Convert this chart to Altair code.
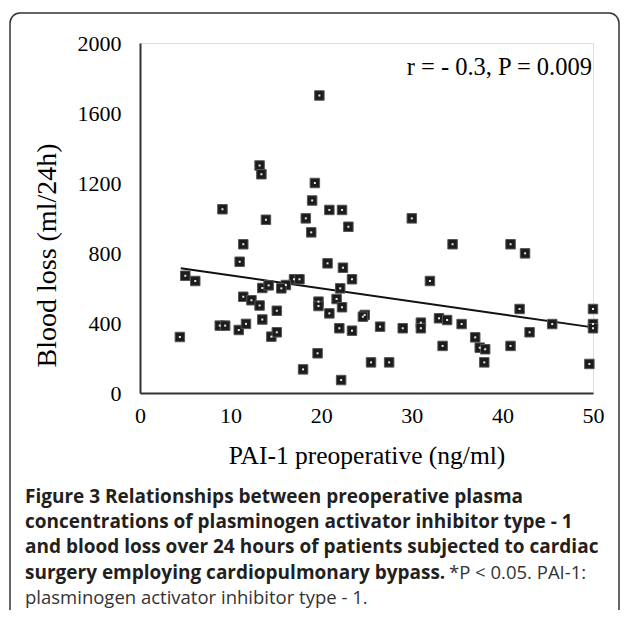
import altair as alt
import pandas as pd

# PAI-1 preoperative (ng/ml) and blood loss (ml/24h)
pai = [9.1, 13.9, 11.4, 11.0, 5.0, 6.1, 13.5, 14.2, 11.4, 12.3, 13.2, 15.1, 13.5,
       8.8, 9.4, 10.9, 11.7, 4.4, 14.5, 15.1, 13.2, 13.4, 19.8, 19.3, 19.0, 20.9,
       22.3, 18.3, 18.9, 23.0, 30.0, 20.7, 22.4, 23.4, 17.0, 17.6, 16.1, 15.6,
       22.1, 21.7, 19.7, 19.7, 20.9, 22.3, 24.8, 24.6, 22.0, 23.4, 26.5, 29.0,
       31.0, 31.0, 33.0, 33.9, 32.0, 33.4, 19.6, 18.0, 25.5, 27.5, 22.2, 34.5,
       40.9, 42.5, 41.9, 50.0, 50.0, 50.0, 45.5, 43.0, 35.5, 37.0, 37.5, 38.1,
       38.0, 40.9, 49.6]
loss = [1050, 990, 850, 750, 670, 640, 600, 615, 550, 530, 500, 470, 420,
        385, 385, 360, 395, 320, 322, 347, 1300, 1250, 1700, 1200, 1100, 1046,
        1046, 998, 918, 950, 998, 741, 716, 650, 650, 650, 617, 598,
        598, 537, 522, 497, 455, 490, 446, 436, 370, 356, 379, 370,
        402, 370, 427, 417, 640, 269, 227, 135, 175, 175, 74, 850,
        850, 798, 480, 480, 394, 370, 394, 347, 394, 318, 259, 250,
        175, 269, 166]

# regression line end points
fit_x = [4.5, 50.0]
fit_y = [713, 375]

x_ticks = [0, 10, 20, 30, 40, 50]
y_ticks = [0, 400, 800, 1200, 1600, 2000]

stat_text = "r = - 0.3, P = 0.009"
caption_bold = [
    "Figure 3 Relationships between preoperative plasma",
    "concentrations of plasminogen activator inhibitor type - 1",
    "and blood loss over 24 hours of patients subjected to cardiac",
    "surgery employing cardiopulmonary bypass.",
]
caption_normal = ["*P < 0.05. PAI-1:", "plasminogen activator inhibitor type - 1."]

SERIF = "Liberation Serif"
SANS = "Open Sans"
CAP_BOLD = 19
CAP_NORMAL = 18.5

pts = pd.DataFrame({"pai": pai, "loss": loss})
fit = pd.DataFrame({"pai": fit_x, "loss": fit_y})
one = pd.DataFrame({"k": [0]})

xs = alt.Scale(domain=[0, 50], nice=False)
ys = alt.Scale(domain=[0, 2000], nice=False)

x_axis = alt.Axis(values=x_ticks, format="d", title="PAI-1 preoperative (ng/ml)",
                  grid=False, ticks=False, tickSize=0, labelPadding=12,
                  labelFlush=False, labelFont=SERIF, labelFontSize=22,
                  labelColor="#000", domainColor="#333", domainWidth=2,
                  titleFont=SERIF, titleFontSize=25.5, titleFontWeight="normal",
                  titleColor="#000", titleY=62, titleBaseline="middle")
y_axis = alt.Axis(values=y_ticks, format="d", title="Blood loss (ml/24h)",
                  grid=False, ticks=False, tickSize=0, labelPadding=19,
                  labelFlush=False, labelFont=SERIF, labelFontSize=22,
                  labelColor="#000", domainColor="#333", domainWidth=2,
                  titleFont=SERIF, titleFontSize=28, titleFontWeight="normal",
                  titleColor="#000", titleX=-93, titleY=212, titleAngle=270,
                  titleAlign="center", titleBaseline="middle")

border = alt.Chart(one).mark_rect(fillOpacity=0, stroke="#333", strokeWidth=1.5,
                                  cornerRadius=10).encode(
    x=alt.value(-130), x2=alt.value(479), y=alt.value(-30), y2=alt.value(640))

line = alt.Chart(fit).mark_line(color="#111", strokeWidth=2).encode(
    x=alt.X("pai:Q", scale=xs, axis=x_axis),
    y=alt.Y("loss:Q", scale=ys, axis=y_axis))

squares = alt.Chart(pts).mark_square(size=90, opacity=1, fill="#1c1c1c",
                                     stroke="#555", strokeWidth=1).encode(
    x=alt.X("pai:Q", scale=xs), y=alt.Y("loss:Q", scale=ys))
dots = alt.Chart(pts).mark_square(size=4, opacity=1, fill="#e8e8e8").encode(
    x=alt.X("pai:Q", scale=xs), y=alt.Y("loss:Q", scale=ys))

stat = alt.Chart(one).mark_text(text=stat_text, font=SERIF, fontSize=24.5,
                                align="right", baseline="middle", color="#000").encode(
    x=alt.value(452), y=alt.value(25))

cap_layers = []
base_y = 459.5
step = 25.4
for i, t in enumerate(caption_bold):
    cap_layers.append(alt.Chart(one).mark_text(
        text=t, font=SANS, fontSize=CAP_BOLD, fontWeight="bold", align="left",
        baseline="alphabetic", color="#231f20").encode(
        x=alt.value(-115), y=alt.value(base_y + i * step)))
cap_layers.append(alt.Chart(one).mark_text(
    text=caption_normal[0], font=SANS, fontSize=CAP_NORMAL, align="left",
    baseline="alphabetic", color="#333").encode(
    x=alt.value(309), y=alt.value(base_y + 3 * step)))
cap_layers.append(alt.Chart(one).mark_text(
    text=caption_normal[1], font=SANS, fontSize=CAP_NORMAL, align="left",
    baseline="alphabetic", color="#333").encode(
    x=alt.value(-115), y=alt.value(base_y + 4 * step)))

chart = alt.layer(border, line, squares, dots, stat, *cap_layers).properties(
    width=453, height=350,
    padding={"left": 132, "top": 35, "right": 28, "bottom": 217},
    autosize=alt.AutoSizeParams(type="none"),
).configure_view(stroke=None).configure(background="white")

chart.save("out.html", embed_options={"renderer": "svg", "actions": False})
